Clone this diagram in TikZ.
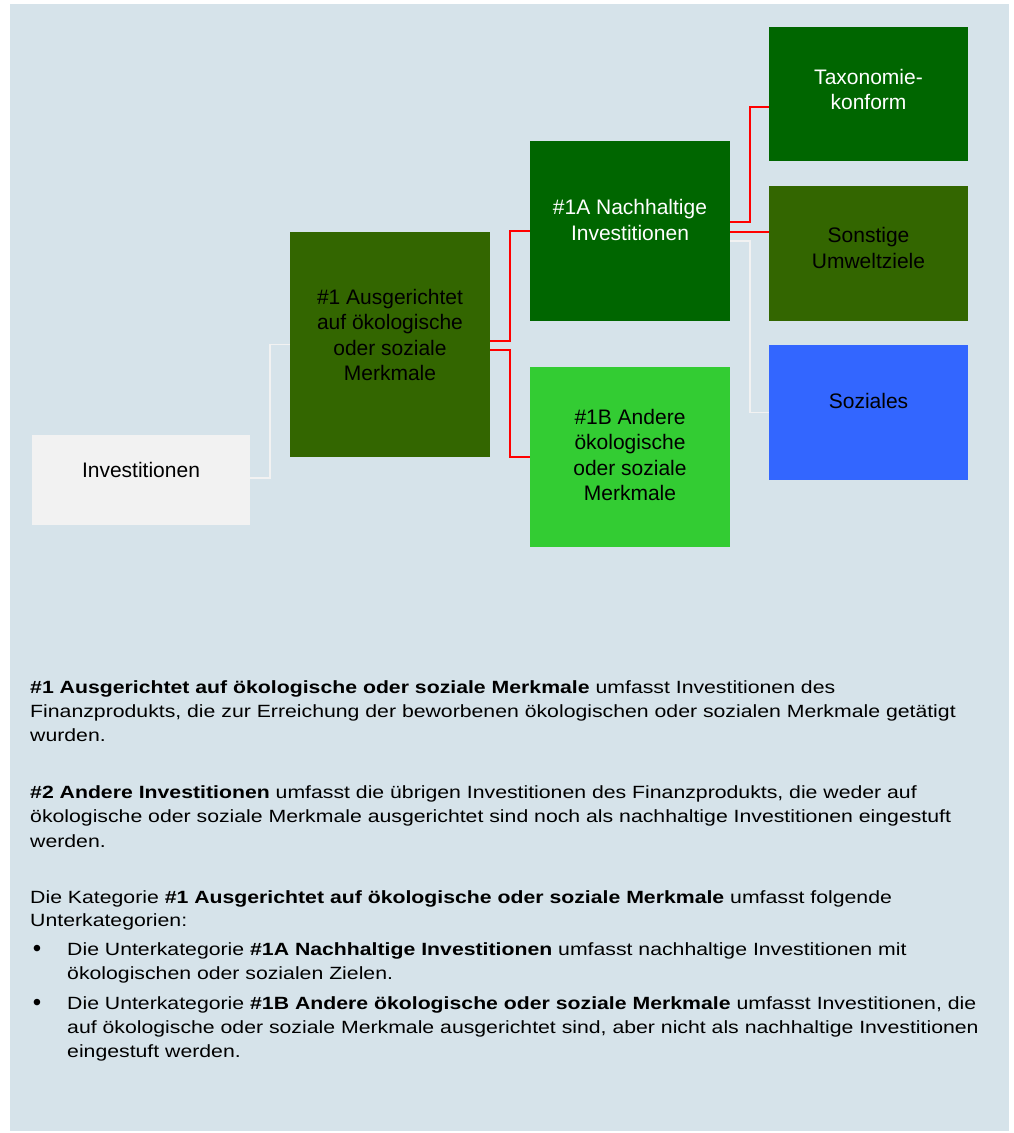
\documentclass[tikz,border=0pt]{standalone}
\usepackage{fontspec}
\setmainfont{Liberation Sans}
\newfontfamily\widefont[FakeStretch=1.2]{Liberation Sans}
\definecolor{bg}{HTML}{D6E3EA}
\definecolor{invfill}{HTML}{F2F2F2}
\definecolor{olive}{HTML}{336600}
\definecolor{dkgreen}{HTML}{006600}
\definecolor{ltgreen}{HTML}{33CC33}
\definecolor{blueish}{HTML}{3366FF}
\definecolor{redln}{HTML}{FF0000}
\definecolor{whln}{HTML}{F2F2F2}
\tikzset{
  box/.style={rectangle, inner sep=0pt, outer sep=0pt},
  btext/.style={align=center, font=\fontsize{21}{25.5}\selectfont, inner sep=0pt},
  redc/.style={draw=redln, line width=1.5pt},
  whc/.style={draw=whln, line width=1.5pt},
  para/.style={anchor=base west, inner sep=0pt, font=\widefont\fontsize{17.7}{24}\selectfont},
  bul/.style={anchor=base, inner sep=0pt, font=\fontsize{24}{24}\selectfont}
}
\begin{document}
\begin{tikzpicture}[x=1pt, y={(0pt,-1pt)}]
\useasboundingbox (0,0) rectangle (1014,1133);
\fill[bg] (10,4) rectangle (1009,1131);
% boxes
\node[box, fill=invfill, minimum width=218pt, minimum height=90pt] (inv) at (141,480) {};
\node[box, fill=olive, minimum width=200pt, minimum height=225pt] (n1) at (390,344.5) {};
\node[box, fill=dkgreen, minimum width=200pt, minimum height=180pt] (n1a) at (630,231) {};
\node[box, fill=ltgreen, minimum width=200pt, minimum height=180pt] (n1b) at (630,457) {};
\node[box, fill=dkgreen, minimum width=199pt, minimum height=134pt] (tax) at (868.5,94) {};
\node[box, fill=olive, minimum width=199pt, minimum height=135pt] (son) at (868.5,253.5) {};
\node[box, fill=blueish, minimum width=199pt, minimum height=135pt] (soz) at (868.5,412.5) {};
% box texts
\node[btext] (invt) at (141,470) {Investitionen};
\node[btext] (n1t) at (390,335) {\#1 Ausgerichtet\\auf ökologische\\oder soziale\\Merkmale};
\node[btext, text=white] (n1at) at (630,220) {\#1A Nachhaltige\\Investitionen};
\node[btext] (n1bt) at (630,455) {\#1B Andere\\ökologische\\oder soziale\\Merkmale};
\node[btext, text=white] (taxt) at (868.5,89.5) {Taxonomie-\\konform};
\node[btext] (sont) at (868.5,248) {Sonstige\\Umweltziele};
\node[btext] (sozt) at (868.5,401) {Soziales};
% connectors
\draw[whc] ([yshift=2pt]inv.east) -- ++(20,0) |- (n1.west);
\draw[redc] ([yshift=3.5pt]n1.east) -- ++(20,0) |- (n1a.west);
\draw[redc] ([yshift=-5.5pt]n1.east) -- ++(20,0) |- (n1b.west);
\draw[redc] ([yshift=9pt]n1a.east) -- ++(20,0) |- ([yshift=-13pt]tax.west);
\draw[redc] ([yshift=-1pt]n1a.east) -- ([yshift=-1pt]n1a.east -| son.west);
\draw[whc] ([yshift=-10pt]n1a.east) -- ++(20,0) |- (soz.west);
% explanatory text
\node[para] (l1) at (30,693) {\textbf{\#1 Ausgerichtet auf ökologische oder soziale Merkmale} umfasst Investitionen des};
\node[para] (l2) at (30,717) {Finanzprodukts, die zur Erreichung der beworbenen ökologischen oder sozialen Merkmale getätigt};
\node[para] (l3) at (30,741) {wurden.};
\node[para] (l4) at (30,798) {\textbf{\#2 Andere Investitionen} umfasst die übrigen Investitionen des Finanzprodukts, die weder auf};
\node[para] (l5) at (30,822) {ökologische oder soziale Merkmale ausgerichtet sind noch als nachhaltige Investitionen eingestuft};
\node[para] (l6) at (30,847) {werden.};
\node[para] (l7) at (30,903) {Die Kategorie \textbf{\#1 Ausgerichtet auf ökologische oder soziale Merkmale} umfasst folgende};
\node[para] (l8) at (30,926) {Unterkategorien:};
\node[bul] (b1) at (37,956) {•};
\node[para] (l9) at (67,955) {Die Unterkategorie \textbf{\#1A Nachhaltige Investitionen} umfasst nachhaltige Investitionen mit};
\node[para] (l10) at (67,979) {ökologischen oder sozialen Zielen.};
\node[bul] (b2) at (37,1010) {•};
\node[para] (l11) at (67,1009) {Die Unterkategorie \textbf{\#1B Andere ökologische oder soziale Merkmale} umfasst Investitionen, die};
\node[para] (l12) at (67,1033) {auf ökologische oder soziale Merkmale ausgerichtet sind, aber nicht als nachhaltige Investitionen};
\node[para] (l13) at (67,1057) {eingestuft werden.};
\end{tikzpicture}
\end{document}
